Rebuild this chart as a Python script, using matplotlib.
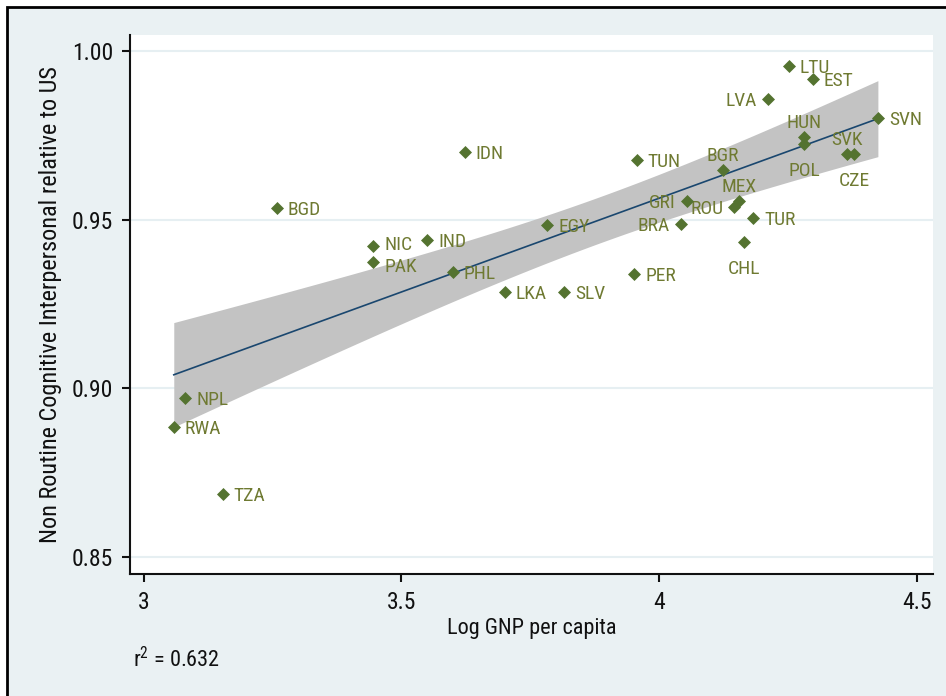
import numpy as np
import matplotlib
matplotlib.use("Agg")
import matplotlib.pyplot as plt
from matplotlib import font_manager as fm
from matplotlib.patches import Rectangle

# ---------------- data ----------------
codes = ["LTU", "EST", "LVA", "SVN", "HUN", "POL", "SVK", "CZE", "BGR", "MEX",
         "ROU", "GRI", "TUN", "BRA", "TUR", "CHL", "PER", "IDN", "BGD", "NIC",
         "PAK", "IND", "EGY", "PHL", "LKA", "SLV", "NPL", "RWA", "TZA"]
log_gnp = [4.252, 4.299, 4.212, 4.425, 4.282, 4.282, 4.365, 4.379, 4.124, 4.155,
           4.146, 4.054, 3.957, 4.043, 4.183, 4.165, 3.952, 3.623, 3.258, 3.445,
           3.445, 3.550, 3.783, 3.600, 3.701, 3.816, 3.080, 3.058, 3.153]
nrci = [0.9955, 0.9916, 0.9857, 0.9800, 0.9745, 0.9724, 0.9694, 0.9694, 0.9647, 0.9555,
        0.9537, 0.9555, 0.9677, 0.9487, 0.9505, 0.9434, 0.9339, 0.9700, 0.9534, 0.9422,
        0.9375, 0.9440, 0.9484, 0.9345, 0.9286, 0.9286, 0.8973, 0.8887, 0.8687]
x_ticks = [3, 3.5, 4, 4.5]
x_ticklabels = ["3", "3.5", "4", "4.5"]
y_ticks = [0.85, 0.90, 0.95, 1.00]
y_ticklabels = ["0.85", "0.90", "0.95", "1.00"]
r2_text = "0.632"

# label placement (style)
left_labels = {"LVA", "GRI", "ROU", "BRA"}
above_labels = {"HUN", "BGR", "MEX", "SVK"}
below_labels = {"POL", "CZE", "CHL"}
nudge = {"NIC": 3, "PAK": -3}

# ---------------- fonts ----------------
def pick(cands):
    for c in cands:
        try:
            fm.findfont(fm.FontProperties(family=c), fallback_to_default=False)
            return c
        except Exception:
            pass
    return "DejaVu Sans"

FONT = pick(["Liberation Sans Narrow", "Arial Narrow", "Roboto Condensed",
             "DejaVu Sans Condensed", "Liberation Sans"])
narrow = FONT in ("Liberation Sans Narrow", "Arial Narrow", "Roboto Condensed", "DejaVu Sans Condensed")
k = 1.0 if narrow else 0.82
plt.rcParams["font.family"] = [FONT, "DejaVu Sans"]
plt.rcParams["mathtext.default"] = "regular"

W, H, DPI = 946, 696, 100
fig = plt.figure(figsize=(W / DPI, H / DPI), dpi=DPI, facecolor="white")

bg = "#eaf1f3"
fig.patches.append(Rectangle((7 / W, -0.05), 1.2, (H - 7) / H + 0.05,
                             transform=fig.transFigure, facecolor=bg,
                             edgecolor="black", linewidth=2, zorder=-10))

ax = fig.add_axes([130 / W, (H - 574) / H, (933 - 130) / W, (574 - 35) / H])
ax.set_zorder(1)
ax.set_facecolor("white")

x = np.array(log_gnp)
y = np.array(nrci)

# linear fit with 95% CI of the mean
b1, b0 = np.polyfit(x, y, 1)
n = len(x)
resid = y - (b0 + b1 * x)
s = np.sqrt(np.sum(resid ** 2) / (n - 2))
xbar = x.mean()
sxx = np.sum((x - xbar) ** 2)
tq = 2.052  # t(0.975, 27)
xs = np.linspace(x.min(), x.max(), 100)
yh = b0 + b1 * xs
se = s * np.sqrt(1 / n + (xs - xbar) ** 2 / sxx)
ax.fill_between(xs, yh - tq * se, yh + tq * se, color="#c3c3c3", linewidth=0, zorder=2)
ax.plot(xs, yh, color="#1a476f", linewidth=1.2, zorder=3)

mcol = "#547330"
lcol = "#6f7a32"
ax.scatter(x, y, marker="D", s=44, color=mcol, zorder=5, linewidths=0)

for c, xi, yi in zip(codes, x, y):
    if c in left_labels:
        off, ha, va = (-11, 0), "right", "center_baseline"
    elif c in above_labels:
        off, ha, va = (0, 16), "center", "center_baseline"
    elif c in below_labels:
        off, ha, va = (0, -25), "center", "center_baseline"
    else:
        off, ha, va = (11, 0), "left", "center_baseline"
    off = (off[0], off[1] + nudge.get(c, 0))
    ax.annotate(c, (xi, yi), xytext=off, textcoords="offset pixels",
                ha=ha, va=va, fontsize=14 * k, color=lcol, zorder=4)

ax.set_xlim(2.973, 4.532)
ax.set_ylim(0.8451, 1.0046)
ax.set_xticks(x_ticks)
ax.set_xticklabels(x_ticklabels)
ax.set_yticks(y_ticks)
ax.set_yticklabels(y_ticklabels)
ax.grid(axis="y", color="#e6eff2", linewidth=1.5, zorder=1)
ax.set_axisbelow(True)
for sp in ("top", "right"):
    ax.spines[sp].set_visible(False)
for sp in ("left", "bottom"):
    ax.spines[sp].set_linewidth(1.5)
    ax.spines[sp].set_color("#111111")
ax.tick_params(axis="both", direction="out", length=6, width=1.5,
               labelsize=17 * k, colors="#111111", pad=6)

ax.set_xlabel("Log GNP per capita", fontsize=16 * k, color="#111111", labelpad=3)
ax.set_ylabel("Non Routine Cognitive Interpersonal relative to US",
              fontsize=17.5 * k, color="#111111", labelpad=7)

fig.text(133 / W, 1 - 660 / H, r"r$^{2}$ = " + r2_text, fontsize=16 * k,
         color="#111111", ha="left", va="center")

fig.savefig("out.png", dpi=DPI, facecolor=fig.get_facecolor())
